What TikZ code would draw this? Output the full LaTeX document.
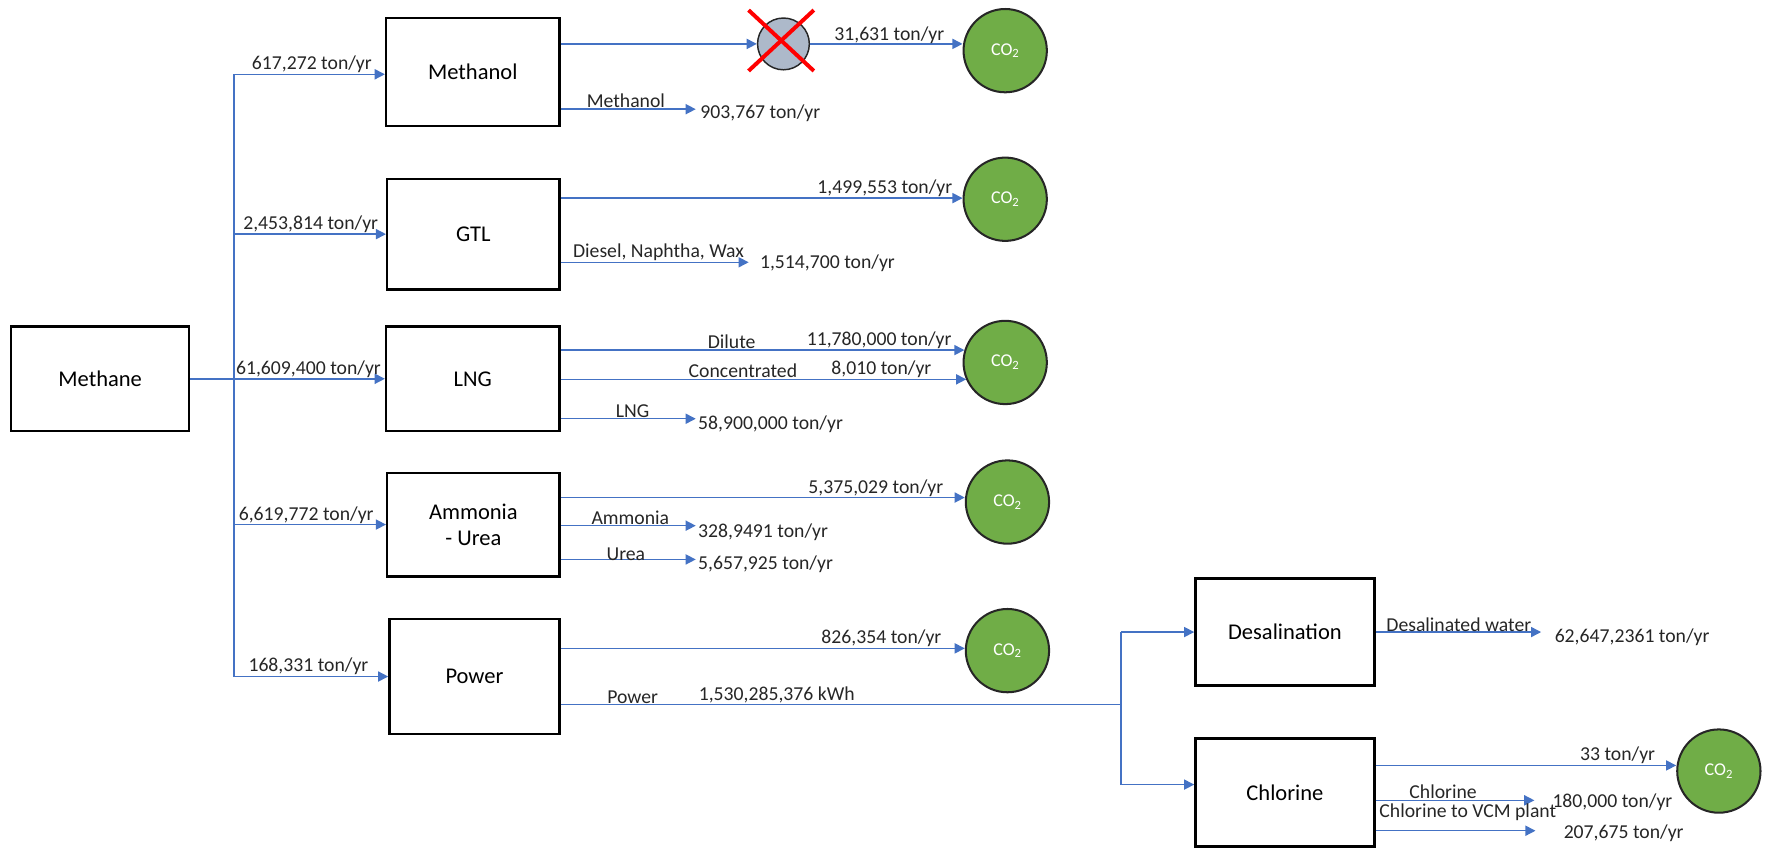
\documentclass[tikz,border=0pt]{standalone}
\usepackage{fontspec}
\setmainfont{Carlito}
\usetikzlibrary{arrows.meta}
\definecolor{flowblue}{HTML}{4472C4}
\definecolor{co2green}{HTML}{70AD47}
\definecolor{flaregray}{HTML}{ADB9CA}
\definecolor{edgedark}{HTML}{262626}
\tikzset{
  unit/.style={draw=black, line width=2.2pt, fill=white, font=\fontsize{20}{23}\selectfont, align=center},
  flow/.style={draw=flowblue, line width=1.3pt, -{Triangle[length=9pt,width=9pt]}},
  feed/.style={draw=flowblue, line width=1.3pt},
  lbl/.style={font=\fontsize{17.5}{20}\selectfont, inner sep=1pt, text=black!85},
  co2/.style={circle, draw=edgedark, line width=1.8pt, fill=co2green, minimum size=74pt, inner sep=0pt, text=white, font=\fontsize{16}{19}\selectfont},
  flare/.style={circle, draw=edgedark, line width=1.3pt, fill=flaregray, minimum size=46pt, inner sep=0pt},
}
\begin{document}
\begin{tikzpicture}[x=1pt,y=-1pt]
\useasboundingbox (0,0) rectangle (1568,753);

% process units
\node[unit, minimum width=158pt, minimum height=93pt] (methane) at (89,336.5) {Methane};
\node[unit, minimum width=154pt, minimum height=96pt] (methanol) at (420,64) {Methanol};
\node[unit, minimum width=153pt, minimum height=98pt] (gtl) at (420.5,208) {GTL};
\node[unit, minimum width=154pt, minimum height=93pt] (lng) at (420,336.5) {LNG};
\node[unit, minimum width=153pt, minimum height=92pt] (amm) at (420.5,466) {Ammonia\\- Urea};
\node[unit, minimum width=151pt, minimum height=102pt] (power) at (421.5,601) {Power};
\node[unit, minimum width=159pt, minimum height=95pt] (desal) at (1141.5,561.5) {Desalination};
\node[unit, minimum width=159pt, minimum height=96pt] (chlor) at (1141.5,704) {Chlorine};

% CO2 sinks
\node[co2] (co2a) at (893,45) {CO\textsubscript{2}};
\node[co2] (co2b) at (893,177) {CO\textsubscript{2}};
\node[co2] (co2c) at (893,322) {CO\textsubscript{2}};
\node[co2] (co2d) at (895,446) {CO\textsubscript{2}};
\node[co2] (co2e) at (895,578) {CO\textsubscript{2}};
\node[co2] (co2f) at (1527,685) {CO\textsubscript{2}};

% crossed-out unit on the methanol line
\node[flare] (flare) at (696,39) {};
\draw[red, line width=3.5pt] ([shift={(-31,-30)}]flare.center) -- ([shift={(27,24)}]flare.center);
\draw[red, line width=3.5pt] ([shift={(-31,24)}]flare.center) -- ([shift={(27,-30)}]flare.center);

% methane distribution header
\coordinate (tTop) at (208,66);
\coordinate (tBot) at (208,601);
\draw[feed] (tTop) -- (tBot);
\draw[flow] (methane.east) -- (lng.west);
\draw[flow] (tTop) -- (tTop -| methanol.west);
\draw[flow] (gtl.west -| tTop) -- (gtl.west);
\draw[flow] (amm.west -| tTop) -- (amm.west);
\draw[flow] (tBot) -- (tBot -| power.west);
\node[lbl, anchor=south] (fMeth) at (277,66) {617,272 ton/yr};
\node[lbl, anchor=south] (fGtl) at (276,208) {2,453,814 ton/yr};
\node[lbl, anchor=south] (fLng) at (274,337) {61,609,400 ton/yr};
\node[lbl, anchor=south] (fAmm) at (272,466) {6,619,772 ton/yr};
\node[lbl, anchor=south] (fPow) at (274,601) {168,331 ton/yr};

% methanol outputs
\coordinate (m1) at ([yshift=25pt]methanol.east);
\coordinate (m2) at ([yshift=-33pt]methanol.east);
\draw[flow] (m1) -- (m1 -| flare.west);
\draw[flow] (flare.east) -- (flare.east -| co2a.west);
\draw[flow] (m2) -- ++(120,0) coordinate (m2end);
\node[lbl, anchor=south] (lMeth1) at (790,40) {31,631 ton/yr};
\node[lbl, anchor=south] (lMeth2) at (556,97) {Methanol};
\node[lbl, anchor=west] (lMeth3) at (621,101) {903,767 ton/yr};

% GTL outputs
\coordinate (g1) at ([yshift=32pt]gtl.east);
\coordinate (g2) at ([yshift=-25pt]gtl.east);
\draw[flow] (g1) -- (g1 -| co2b.west);
\draw[flow] (g2) -- ++(167,0) coordinate (g2end);
\node[lbl, anchor=south] (lGtl1) at (786,176) {1,499,553 ton/yr};
\node[lbl, anchor=south] (lGtl2) at (585,233) {Diesel, Naphtha, Wax};
\node[lbl, anchor=west] (lGtl3) at (674,234) {1,514,700 ton/yr};

% LNG outputs
\coordinate (l1) at ([yshift=25.5pt]lng.east);
\coordinate (l2) at ([yshift=-0.5pt]lng.east);
\coordinate (l3) at ([yshift=-35.5pt]lng.east);
\draw[flow] (l1) -- (l1 -| co2c.163);
\draw[flow] (l2) -- (l2 -| co2c.204);
\draw[flow] (l3) -- ++(120,0) coordinate (l3end);
\node[lbl, anchor=south] (lLng1) at (650,311) {Dilute};
\node[lbl, anchor=south] (lLng2) at (781,311) {11,780,000 ton/yr};
\node[lbl, anchor=south] (lLng3) at (660,337) {Concentrated};
\node[lbl, anchor=south] (lLng4) at (783,337) {8,010 ton/yr};
\node[lbl, anchor=south] (lLng5) at (562,372) {LNG};
\node[lbl, anchor=west] (lLng6) at (619,377) {58,900,000 ton/yr};

% ammonia-urea outputs
\coordinate (a1) at ([yshift=24pt]amm.east);
\coordinate (a2) at ([yshift=-1pt]amm.east);
\coordinate (a3) at ([yshift=-31pt]amm.east);
\draw[flow] (a1) -- (a1 -| co2d.west);
\draw[flow] (a2) -- ++(120,0) coordinate (a2end);
\draw[flow] (a3) -- ++(120,0) coordinate (a3end);
\node[lbl, anchor=south] (lAmm1) at (778,442) {5,375,029 ton/yr};
\node[lbl, anchor=south] (lAmm2) at (560,467) {Ammonia};
\node[lbl, anchor=west] (lAmm3) at (619,473) {328,9491 ton/yr};
\node[lbl, anchor=south] (lAmm4) at (556,499) {Urea};
\node[lbl, anchor=west] (lAmm5) at (619,501) {5,657,925 ton/yr};

% power outputs
\coordinate (p1) at ([yshift=25pt]power.east);
\coordinate (p2) at ([yshift=-25pt]power.east);
\coordinate (pSplit) at (996,626);
\coordinate (clIn) at ([yshift=7pt]chlor.west);
\draw[flow] (p1) -- (p1 -| co2e.west);
\draw[feed] (p2) -- (pSplit);
\draw[feed] (pSplit |- desal.west) -- (pSplit |- clIn);
\draw[flow] (pSplit |- desal.west) -- (desal.west);
\draw[flow] (pSplit |- clIn) -- (clIn);
\node[lbl, anchor=south] (lPow1) at (783,576) {826,354 ton/yr};
\node[lbl, anchor=south] (lPow2) at (562,626) {Power};
\node[lbl, anchor=south] (lPow3) at (690,626) {1,530,285,376 kWh};

% desalination output
\draw[flow] (desal.east) -- ++(147,0) coordinate (dEnd);
\node[lbl, anchor=south] (lDes1) at (1296,562) {Desalinated water};
\node[lbl, anchor=west] (lDes2) at (1380,566) {62,647,2361 ton/yr};

% chlorine outputs
\coordinate (c1) at ([yshift=24pt]chlor.east);
\coordinate (c2) at ([yshift=-7pt]chlor.east);
\coordinate (c3) at ([yshift=-34pt]chlor.east);
\draw[flow] (c1) -- (c1 -| co2f.west);
\draw[flow] (c2) -- ++(141,0) coordinate (c2end);
\draw[flow] (c3) -- ++(142,0) coordinate (c3end);
\node[lbl, anchor=south] (lCl1) at (1437,680) {33 ton/yr};
\node[lbl, anchor=south] (lCl2) at (1282,711) {Chlorine};
\node[lbl, anchor=west] (lCl3) at (1378,713) {180,000 ton/yr};
\node[lbl] (lCl4) at (1304,722) {Chlorine to VCM plant};
\node[lbl, anchor=west] (lCl5) at (1388,740) {207,675 ton/yr};
\end{tikzpicture}
\end{document}
